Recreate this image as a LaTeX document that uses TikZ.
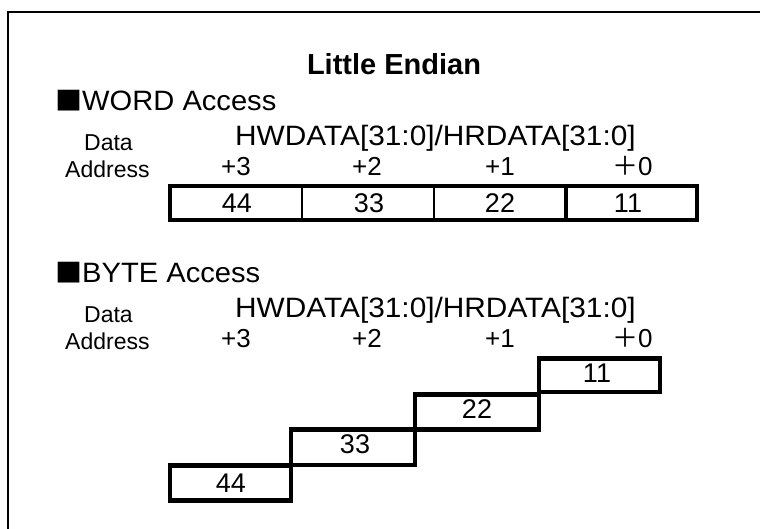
\documentclass[tikz,border=0pt]{standalone}
\usepackage{fontspec}
\setmainfont{Liberation Sans}
\newfontfamily\cjk{Noto Sans CJK JP}
\begin{document}
\begin{tikzpicture}[x=1pt,y=-1pt,
  lbl/.style={inner sep=0pt, anchor=base west},
  num/.style={inner sep=0pt, anchor=base, font=\fontsize{27}{27}\selectfont},
  head/.style={lbl, font=\fontsize{28}{28}\selectfont, xscale=1.04},
  small/.style={lbl, font=\fontsize{23}{23}\selectfont},
  bus/.style={lbl, font=\fontsize{28}{28}\selectfont, xscale=1.065},
  addr/.style={lbl, font=\fontsize{26}{26}\selectfont},
  thick box/.style={line width=4.5pt},
  thin div/.style={line width=2pt},
  frame/.style={line width=2.5pt}]
\useasboundingbox (0,0) rectangle (760,528);
\clip (0,0) rectangle (760,528);
\draw[frame] (8,540) -- (8,12) -- (770,12);

\node[inner sep=0pt, anchor=base, font=\bfseries\fontsize{29}{29}\selectfont] (title) at (394,74) {Little Endian};

% WORD access
\node[head] (wordhd) at (55,110) {{\cjk\fontsize{26}{26}\selectfont ■}WORD Access};
\node[small] (wdata) at (84,150) {Data};
\node[bus] (wbus) at (235,145) {HWDATA[31:0]/HRDATA[31:0]};
\node[small] (waddr) at (65,177) {Address};
\node[addr] (wa3) at (221,175) {+3};
\node[addr] (wa2) at (352,175) {+2};
\node[addr] (wa1) at (485,175) {+1};
\node[addr] (wa0) at (612,175) {{\cjk ＋}0};

\draw[thick box] (170,186) rectangle (697,220);
\draw[thin div] (302,186) -- (302,220);
\draw[thin div] (434,186) -- (434,220);
\draw[line width=3.5pt] (566,186) -- (566,220);
\node[num] (w44) at (237,212) {44};
\node[num] (w33) at (369,212) {33};
\node[num] (w22) at (500,212) {22};
\node[num] (w11) at (628,212) {11};

% BYTE access
\node[head] (bytehd) at (55,282) {{\cjk\fontsize{26}{26}\selectfont ■}BYTE Access};
\node[small] (bdata) at (84,322) {Data};
\node[bus] (bbus) at (235,317) {HWDATA[31:0]/HRDATA[31:0]};
\node[small] (baddr) at (65,349) {Address};
\node[addr] (ba3) at (221,347) {+3};
\node[addr] (ba2) at (352,347) {+2};
\node[addr] (ba1) at (485,347) {+1};
\node[addr] (ba0) at (612,347) {{\cjk ＋}0};

\draw[thick box] (539,358.5) rectangle (660,392);
\draw[thick box] (415,394.5) rectangle (539,429.5);
\draw[thick box] (291,429.5) rectangle (415,465);
\draw[thick box] (170,465.5) rectangle (291,500.5);
\node[num] (b11) at (597,382) {11};
\node[num] (b22) at (477,418) {22};
\node[num] (b33) at (355,453) {33};
\node[num] (b44) at (231,492) {44};
\end{tikzpicture}
\end{document}
